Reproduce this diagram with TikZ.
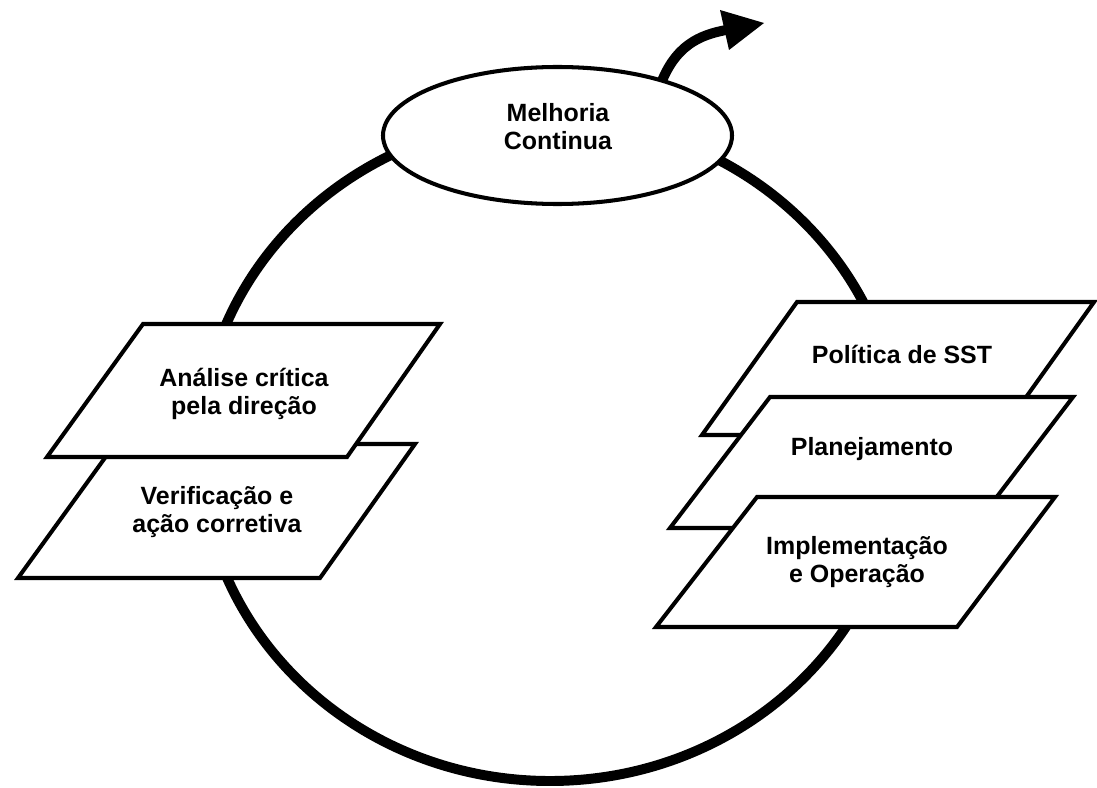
\documentclass[tikz,border=0pt]{standalone}
\usepackage{fontspec}
\setmainfont{Liberation Sans}
\begin{document}
\begin{tikzpicture}[x=0.02cm,y=-0.02cm,
  loopline/.style={line width=5.67pt},
  boxline/.style={draw=black, fill=white, line width=2.3pt, line join=miter},
  lbl/.style={font=\bfseries\fontsize{14.2}{15.9}\selectfont, align=center, inner sep=0pt}]
\useasboundingbox (0,0) rectangle (1097,787);
% main loop
\draw[loopline] (550,450) ellipse [x radius=350, y radius=331];
% outgoing arrow
\coordinate (arrstart) at (660,86);
\coordinate (arrend) at (726,30);
\draw[loopline] (arrstart) .. controls (675,45) and (700,35) .. (arrend);
\coordinate (headA) at (720,10);
\coordinate (headB) at (764,23);
\coordinate (headC) at (729,50);
\fill (headA) -- (headB) -- (headC) -- cycle;
% improvement ellipse
\draw[boxline] (557.5,135.5) ellipse [x radius=174.5, y radius=68.5];
% left boxes
\draw[boxline] (115,444) -- (415,444) -- (320,578) -- (18,578) -- cycle;
\draw[boxline] (143,324) -- (440,324) -- (347,457) -- (47,457) -- cycle;
% right boxes
\draw[boxline] (797,302) -- (1094,302) -- (999,435) -- (702,435) -- cycle;
\draw[boxline] (770,397) -- (1073,397) -- (973,528) -- (670,528) -- cycle;
\draw[boxline] (757,497) -- (1055,497) -- (957,627) -- (656,627) -- cycle;
% labels
\node[lbl] (melhoria) at (558,127) {Melhoria\\Continua};
\node[lbl] (analise) at (244,394) {Análise crítica\\pela direção};
\node[lbl] (verif) at (217,512) {Verificação e\\ação corretiva};
\node[lbl] (politica) at (902,354) {Política de SST};
\node[lbl] (planej) at (872,449) {Planejamento};
\node[lbl] (implem) at (857,562) {Implementação\\e Operação};
\end{tikzpicture}
\end{document}
